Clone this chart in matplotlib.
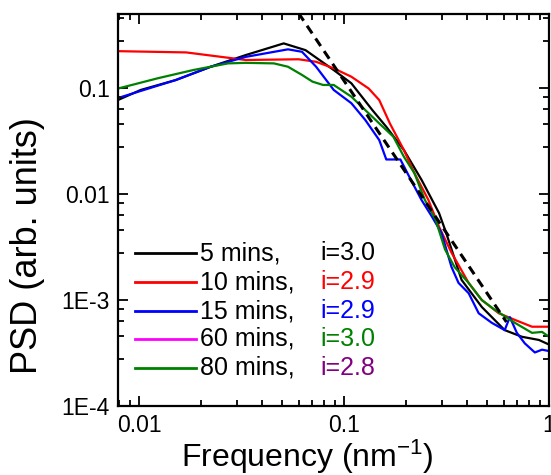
import matplotlib
matplotlib.use("Agg")
import matplotlib.pyplot as plt
from matplotlib.ticker import FixedLocator, LogLocator, NullFormatter

plt.rcParams['font.family'] = ['Liberation Sans', 'DejaVu Sans']
plt.rcParams['mathtext.default'] = 'regular'

# PSD curves (frequency in nm^-1, PSD in arb. units)
f_5 = [0.0080, 0.0102, 0.0151, 0.0224, 0.0332, 0.0508, 0.0649, 0.0891, 0.1086, 0.1375,
       0.1608, 0.196, 0.239, 0.291, 0.315, 0.3745, 0.47, 0.608, 0.738, 0.893, 1.0]
psd_5 = [0.078, 0.096, 0.119, 0.159, 0.205, 0.264, 0.228, 0.148, 0.111, 0.062,
         0.0431, 0.026, 0.0136, 0.0066, 0.0043, 0.00155, 0.00086, 0.00052, 0.00045, 0.00042, 0.00038]

f_10 = [0.0079, 0.0170, 0.0332, 0.060, 0.0731, 0.0891, 0.1086, 0.132, 0.1486, 0.1674,
        0.196, 0.2207, 0.258, 0.291, 0.3345, 0.4055, 0.47, 0.569, 0.681, 0.826, 1.0]
psd_10 = [0.223, 0.217, 0.184, 0.187, 0.177, 0.1535, 0.128, 0.099, 0.077, 0.0464,
          0.026, 0.0157, 0.0088, 0.0049, 0.0028, 0.00145, 0.0010, 0.00075, 0.00065, 0.00056, 0.00056]

f_15 = [0.0083, 0.0151, 0.0224, 0.0332, 0.0533, 0.0624, 0.0731, 0.0891, 0.1086, 0.127,
        0.1486, 0.1608, 0.1884, 0.212, 0.2388, 0.2688, 0.299, 0.3345, 0.362, 0.4055,
        0.454, 0.5255, 0.608, 0.644, 0.697, 0.762, 0.853, 0.925, 1.0]
psd_15 = [0.083, 0.119, 0.159, 0.197, 0.232, 0.220, 0.159, 0.096, 0.072, 0.050,
          0.0323, 0.0212, 0.0212, 0.0136, 0.0088, 0.0061, 0.0043, 0.00205, 0.00145, 0.00116,
          0.00075, 0.00061, 0.00052, 0.00069, 0.00049, 0.00039, 0.00032, 0.00034, 0.00033]

f_80 = [0.0079, 0.0124, 0.0184, 0.0272, 0.0332, 0.0455, 0.0533, 0.0624, 0.0702, 0.0791,
        0.0891, 0.1086, 0.127, 0.1486, 0.174, 0.196, 0.2207, 0.248, 0.28, 0.311,
        0.346, 0.4055, 0.47, 0.543, 0.681, 0.826, 0.925, 1.0]
psd_80 = [0.099, 0.124, 0.148, 0.171, 0.173, 0.171, 0.159, 0.133, 0.115, 0.107,
          0.107, 0.083, 0.062, 0.0464, 0.0348, 0.0225, 0.0157, 0.0088, 0.0057, 0.0030,
          0.00205, 0.00145, 0.0010, 0.00081, 0.00061, 0.00049, 0.00050, 0.00045]

# power-law guide (dashed)
fit_f = [0.060, 0.62]
fit_psd = [0.51, 0.00062]

labels = ['5 mins,', '10 mins,', '15 mins,', '60 mins,', '80 mins,']
exponents = ['i=3.0', 'i=2.9', 'i=2.9', 'i=3.0', 'i=2.8']
line_colors = ['#000000', '#ff0000', '#0000ff', '#ff00ff', '#008000']
exp_colors = ['#000000', '#ff0000', '#0000ff', '#008000', '#800080']

xticks = [0.01, 0.1, 1]
xticklabels = ['0.01', '0.1', '1']
yticks = [1e-4, 1e-3, 1e-2, 1e-1]
yticklabels = ['1E-4', '1E-3', '0.01', '0.1']

fig = plt.figure(figsize=(5.51, 4.75), dpi=100)
ax = fig.add_axes([118 / 551, 69 / 475, 431 / 551, 392 / 475])

lw = 1.6
ax.plot(f_5, psd_5, color=line_colors[0], lw=lw)
ax.plot(f_10, psd_10, color=line_colors[1], lw=lw)
ax.plot(f_15, psd_15, color=line_colors[2], lw=lw)
ax.plot(f_80, psd_80, color=line_colors[4], lw=lw)
ax.plot(fit_f, fit_psd, color='black', lw=2.2, ls=(0, (3, 2)))

ax.set_xscale('log')
ax.set_yscale('log')
ax.set_xlim(0.0079, 1.0)
ax.set_ylim(1e-4, 0.5)

ax.xaxis.set_major_locator(FixedLocator(xticks))
ax.set_xticklabels(xticklabels)
ax.yaxis.set_major_locator(FixedLocator(yticks))
ax.set_yticklabels(yticklabels)
ax.xaxis.set_minor_locator(LogLocator(base=10, subs=(2, 3, 4, 5, 6, 7, 8, 9)))
ax.yaxis.set_minor_locator(LogLocator(base=10, subs=(2.8, 4.6, 6.4, 8.2)))
ax.xaxis.set_minor_formatter(NullFormatter())
ax.yaxis.set_minor_formatter(NullFormatter())

ax.tick_params(which='both', direction='in', top=True, right=True, width=1.3)
ax.tick_params(which='major', length=7, labelsize=16.5, pad=6)
ax.tick_params(which='minor', length=4)
for s in ax.spines.values():
    s.set_linewidth(1.6)

ax.set_xlabel('Frequency (nm$^{-1}$)', fontsize=23)
ax.set_ylabel('PSD (arb. units)', fontsize=26)
ax.xaxis.set_label_coords(0.44, -0.08)
ax.yaxis.set_label_coords(-0.17, 0.41)

# legend with coloured exponent text
row_y = [0.390, 0.316, 0.242, 0.171, 0.097]
for k in range(len(labels)):
    ax.plot([0.040, 0.180], [row_y[k], row_y[k]], color=line_colors[k], lw=2,
            transform=ax.transAxes)
    ax.text(0.190, row_y[k], labels[k], transform=ax.transAxes, fontsize=18,
            va='center', ha='left')
    ax.text(0.470, row_y[k], exponents[k], transform=ax.transAxes, fontsize=18,
            va='center', ha='left', color=exp_colors[k])

fig.savefig('out.png', dpi=100)
